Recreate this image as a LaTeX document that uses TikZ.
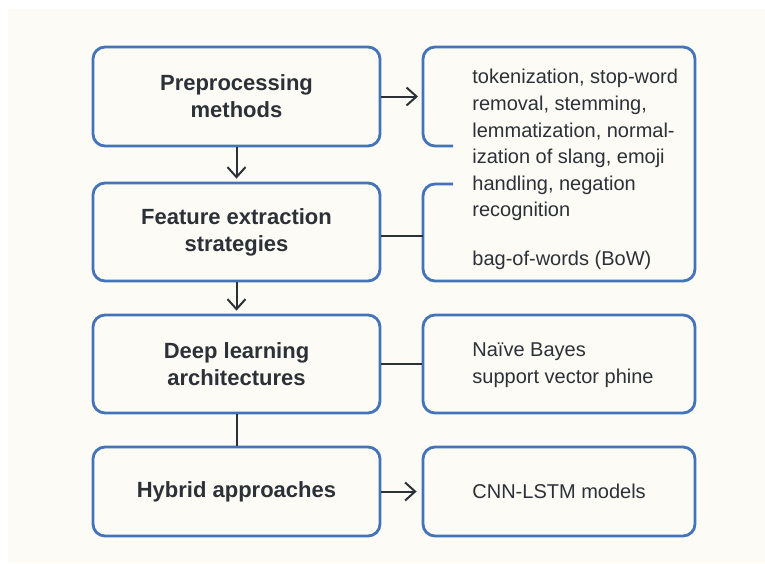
\documentclass[tikz,border=0pt]{standalone}
\usepackage{fontspec}
\setmainfont{Liberation Sans}
\usetikzlibrary{arrows.meta}
\definecolor{bg}{HTML}{FCFBF5}
\definecolor{edge}{HTML}{4373B8}
\definecolor{ink}{HTML}{2C3138}
\begin{document}
\begin{tikzpicture}[x=0.5pt,y=-0.5pt,
  box/.style={draw=edge,line width=1.4pt,rounded corners=6pt,minimum width=143.5pt,
    align=center,font=\fontsize{11}{13.5}\selectfont\bfseries,text=ink,inner sep=0pt},
  rbox/.style={draw=edge,line width=1.4pt,rounded corners=6pt,minimum width=136pt,inner sep=0pt},
  body/.style={font=\fontsize{10}{13.3}\selectfont,text=ink,align=left,inner sep=0pt},
  conn/.style={draw=ink,line width=1pt},
  tip/.style={-{Straight Barb[length=5pt,width=9pt,line width=1pt]}}]
\fill[white] (0,0) rectangle (765,563);
\fill[bg] (8,9) rectangle (765,563);
\useasboundingbox (0,0) rectangle (765,563);

% left column
\node[box,minimum height=49.5pt] (pre) at (236.5,96.5) {Preprocessing\\methods};
\node[box,minimum height=49pt] (feat) at (236.5,232) {Feature extraction\\strategies};
\node[box,minimum height=49pt] (deep) at (236.5,364) {Deep learning\\architectures};
\node[box,minimum height=44.5pt] (hyb) at (236.5,491.5) {Hybrid approaches};

% merged right box (open on the left between the two parts)
\draw[draw=edge,line width=1.4pt,rounded corners=6pt]
  (453,146) -- (423,146) -- (423,47) -- (695,47) -- (695,281) -- (423,281) -- (423,184) -- (453,184);
\node[body,anchor=north west] (prep) at (472,69)
  {tokenization, stop-word\\removal, stemming,\\lemmatization, normal-\\ization of slang, emoji\\handling, negation\\recognition};
\node[body,anchor=west] (bow) at (472,260) {bag-of-words (BoW)};

\node[rbox,minimum height=49pt] (nb) at (559,364) {};
\node[body,anchor=west] (nbt) at (472,365) {Naïve Bayes\\support vector phine};
\node[rbox,minimum height=44.5pt] (cnn) at (559,491.5) {};
\node[body,anchor=west] (cnnt) at (472,491) {CNN-LSTM models};

% connectors
\coordinate (r1) at (418,96.5);
\coordinate (r2) at (423,236);
\draw[conn,tip] (pre.east) -- (r1);
\draw[conn] (r2 -| feat.east) -- (r2);
\draw[conn] (deep.east) -- (nb.west);
\draw[conn,tip,shorten >=2.5pt] (hyb.east) -- (cnn.west);
\draw[conn,tip,shorten >=1.5pt] (pre.south) -- (feat.north);
\draw[conn,tip,shorten >=1.5pt] (feat.south) -- (deep.north);
\draw[conn] (deep.south) -- (hyb.north);
\end{tikzpicture}
\end{document}
